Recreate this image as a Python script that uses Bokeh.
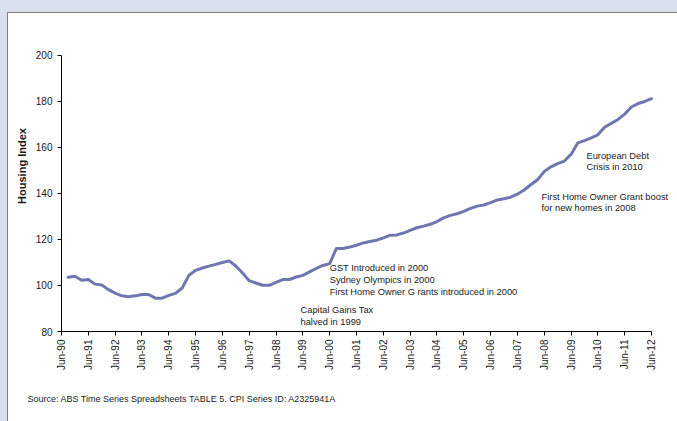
from math import pi
from bokeh.plotting import figure
from bokeh.models import FixedTicker, Range1d, Label, Title
from bokeh.embed import file_html
from bokeh.resources import INLINE

# Quarter index counted from Jun-90 (1 = Sep-90 ... 88 = Jun-12)
quarters = list(range(1, 89))
housing_index = [
    103.6, 104.0, 102.3, 102.6, 100.6, 100.2, 98.2, 96.7, 95.5, 95.1,
    95.5, 96.1, 96.1, 94.5, 94.5, 95.7, 96.6, 98.9, 104.4, 106.6,
    107.6, 108.4, 109.2, 110.0, 110.7, 108.5, 105.4, 102.1, 101.1, 100.1,
    100.1, 101.4, 102.6, 102.6, 103.7, 104.4, 105.9, 107.4, 108.7, 109.5,
    116.1, 116.1, 116.7, 117.5, 118.5, 119.1, 119.7, 120.7, 121.8, 122.0,
    122.8, 124.0, 125.1, 125.8, 126.6, 127.8, 129.4, 130.5, 131.2, 132.2,
    133.5, 134.5, 135.0, 136.0, 137.2, 137.7, 138.4, 139.7, 141.5, 143.8,
    146.0, 149.5, 151.6, 153.0, 154.1, 157.0, 162.0, 163.0, 164.2, 165.5,
    168.8, 170.5, 172.2, 174.5, 177.6, 179.1, 180.0, 181.2,
]
tick_positions = list(range(0, 89, 4))
tick_labels = ["Jun-90", "Jun-91", "Jun-92", "Jun-93", "Jun-94", "Jun-95",
               "Jun-96", "Jun-97", "Jun-98", "Jun-99", "Jun-00", "Jun-01",
               "Jun-02", "Jun-03", "Jun-04", "Jun-05", "Jun-06", "Jun-07",
               "Jun-08", "Jun-09", "Jun-10", "Jun-11", "Jun-12"]
y_ticks = [80, 100, 120, 140, 160, 180, 200]

FONT = "Liberation Sans"
TXT = "#1a1a1a"

# frame spans from the y axis to the right edge and up to the top edge,
# axes are limited with bounds so the notes can run past Jun-12
p = figure(width=677, height=421, output_backend="svg", toolbar_location=None,
           x_range=Range1d(0, 91.88), y_range=Range1d(80, 223.9),
           min_border_left=61, min_border_right=0, min_border_top=0,
           min_border_bottom=90)
p.border_fill_color = None
p.background_fill_color = None
p.outline_line_color = None
p.grid.visible = False
p.styles = {
    "background-color": "white",
    "box-shadow": "inset 7px 12px 0 0 #D9DFEC, inset 8px 13px 0 0 #808080",
}

p.line(quarters, housing_index, line_color="#7276B0", line_width=3,
       line_join="round", line_cap="round")

for ax in (p.xaxis, p.yaxis):
    ax.axis_line_color = "#000000"
    ax.major_tick_line_color = "#000000"
    ax.major_tick_in = 0
    ax.major_tick_out = 4
    ax.minor_tick_line_color = None
    ax.major_label_text_font = FONT
    ax.major_label_text_font_size = "10px"
    ax.major_label_text_color = TXT

p.xaxis.ticker = FixedTicker(ticks=tick_positions)
p.xaxis.bounds = (0, 88)
p.xaxis.major_label_overrides = dict(zip(tick_positions, tick_labels))
p.xaxis.major_label_orientation = pi / 2
p.xaxis.major_label_standoff = 4

p.yaxis.ticker = FixedTicker(ticks=y_ticks)
p.yaxis.bounds = (80, 200)
p.yaxis.axis_label = "Housing Index"
p.yaxis.axis_label_text_font = FONT
p.yaxis.axis_label_text_font_style = "bold"
p.yaxis.axis_label_text_font_size = "11px"
p.yaxis.axis_label_text_color = TXT
p.yaxis.axis_label_standoff = 5

notes = [
    (40.0, 107.4, "GST Introduced in 2000"),
    (40.0, 102.4, "Sydney Olympics in 2000"),
    (40.0, 97.3, "First Home Owner G rants introduced in 2000"),
    (35.65, 89.2, "Capital Gains Tax"),
    (35.65, 84.2, "halved in 1999"),
    (71.6, 138.6, "First Home Owner Grant boost"),
    (71.6, 133.7, "for new homes in 2008"),
    (78.3, 156.1, "European Debt"),
    (78.3, 151.3, "Crisis in 2010"),
]
for nx, ny, t in notes:
    p.add_layout(Label(x=nx, y=ny, text=t, text_font=FONT,
                       text_font_size="9.3px", text_color=TXT,
                       text_baseline="middle", text_align="left"))

src = Title(text="Source: ABS Time Series Spreadsheets TABLE 5. CPI Series ID: A2325941A",
            align="left", offset=-34, standoff=36, text_font=FONT,
            text_font_size="9px", text_font_style="normal", text_color=TXT)
p.add_layout(src, "below")

open("out.html", "w").write(file_html(p, INLINE))
